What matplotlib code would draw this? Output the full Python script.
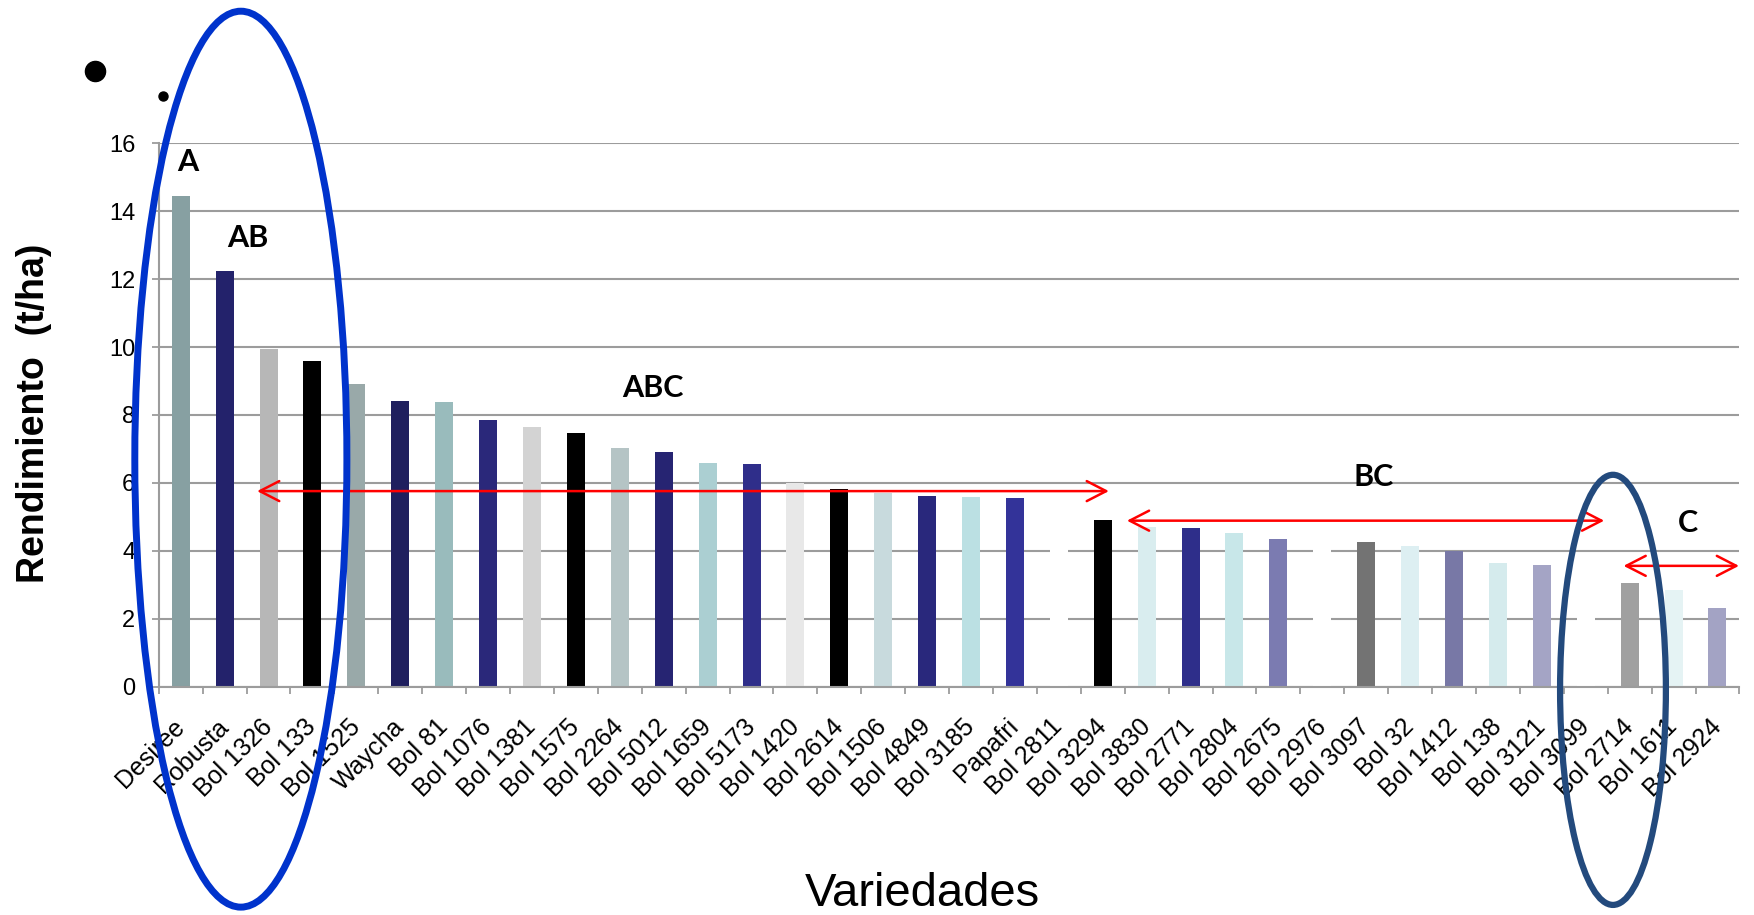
import matplotlib.pyplot as plt
import numpy as np
from matplotlib.patches import Ellipse
from matplotlib.lines import Line2D

variedades = ['Desiree', 'Robusta', 'Bol 1326', 'Bol 133', 'Bol 1525', 'Waycha',
              'Bol 81', 'Bol 1076', 'Bol 1381', 'Bol 1575', 'Bol 2264', 'Bol 5012',
              'Bol 1659', 'Bol 5173', 'Bol 1420', 'Bol 2614', 'Bol 1506', 'Bol 4849',
              'Bol 3185', 'Papafri', 'Bol 2811', 'Bol 3294', 'Bol 3830', 'Bol 2771',
              'Bol 2804', 'Bol 2675', 'Bol 2976', 'Bol 3097', 'Bol 32', 'Bol 1412',
              'Bol 138', 'Bol 3121', 'Bol 3099', 'Bol 2714', 'Bol 1611', 'Bol 2924']
rendimiento = [14.44, 12.25, 9.93, 9.58, 8.92, 8.42, 8.39, 7.86, 7.66, 7.48,
               7.03, 6.92, 6.60, 6.57, 6.00, 5.82, 5.70, 5.61, 5.58, 5.55,
               5.25, 4.91, 4.70, 4.67, 4.53, 4.35, 4.30, 4.26, 4.15, 3.99,
               3.65, 3.59, 3.35, 3.06, 2.86, 2.33]
colores = ['#87A0A2', '#23226B', '#B7B7B7', '#000000', '#99A9A9', '#1F1F5E',
           '#99BBBC', '#2A287A', '#D3D3D3', '#000000', '#B5C4C5', '#262472',
           '#ABCFD2', '#2F2E8A', '#E8E8E8', '#000000', '#C8DADD', '#29287C',
           '#BBE0E3', '#333399', '#FFFFFF', '#000000', '#D9EDEF', '#2E2E8A',
           '#C8E7E9', '#7B7BB1', '#FFFFFF', '#737373', '#DDEFF2', '#7878A6',
           '#D5EBED', '#A4A4C5', '#FFFFFF', '#A0A0A0', '#E5F3F4', '#A3A3C4']

# letras de significancia (Tukey) y rangos que cubren
grupos = ['A', 'AB', 'ABC', 'BC', 'C']
grupos_x = [0.17, 1.53, 10.75, 27.17, 34.33]
grupos_y = [15.45, 13.21, 8.79, 6.18, 4.83]
flechas = [(1.74, 21.14, 5.76), (21.55, 32.42, 4.89), (32.86, 35.49, 3.56)]

fig = plt.figure(figsize=(17.54, 9.15), dpi=100)
ax = fig.add_axes([0.0905, 0.2494, 0.9012, 0.5941])

x = np.arange(len(variedades))
ax.bar(x, rendimiento, width=0.41, color=colores, zorder=2)

ax.set_xlim(-0.5, len(variedades) - 0.5)
ax.set_ylim(0, 16)
ax.set_yticks(np.arange(0, 17, 2))
ax.yaxis.grid(True, color='#9C9C9C', linewidth=1.5, zorder=0)
ax.set_axisbelow(True)
for s in ['top', 'right']:
    ax.spines[s].set_visible(False)
for s in ['left', 'bottom']:
    ax.spines[s].set_color('#9C9C9C')
    ax.spines[s].set_linewidth(1.5)

ax.set_xticks(x)
ax.set_xticklabels(variedades, rotation=45, ha='right', va='center',
                   rotation_mode='anchor', fontsize=18, family='Liberation Sans')
ax.set_xticks(np.arange(-0.5, len(variedades), 1), minor=True)
ax.tick_params(axis='x', which='major', length=0, pad=26)
ax.tick_params(axis='x', which='minor', length=5, width=1.3, color='#9C9C9C')
ax.tick_params(axis='y', length=5, width=1.3, color='#9C9C9C', pad=12)
for t in ax.get_yticklabels():
    t.set_fontsize(17)
    t.set_family('Liberation Sans')

for g, gx, gy in zip(grupos, grupos_x, grupos_y):
    ax.text(gx, gy, g, ha='center', va='center', fontsize=22,
            fontweight='bold', family='Lato')

for x0, x1, y in flechas:
    ax.annotate('', xy=(x1, y), xytext=(x0, y),
                arrowprops=dict(arrowstyle='<->,head_length=0.7,head_width=0.36',
                                color='#FF0000', lw=1.8, mutation_scale=20,
                                shrinkA=0, shrinkB=0),
                annotation_clip=False)

# ovalos resaltando extremos
ax.add_patch(Ellipse((1.37, 6.70), 4.83, 26.37, fill=False, edgecolor='#0033CC',
                     linewidth=5, clip_on=False, zorder=5))
ax.add_patch(Ellipse((32.62, -0.09), 2.41, 12.66, fill=False, edgecolor='#234A7D',
                     linewidth=4.5, clip_on=False, zorder=5))

fig.text(34 / 1754, 1 - 413 / 915, 'Rendimiento  (t/ha)', rotation=90,
         ha='center', va='center', fontsize=27, fontweight='bold',
         family='Liberation Sans')
fig.text(922 / 1754, 1 - 894 / 915, 'Variedades', ha='center', va='center',
         fontsize=34, family='Liberation Sans')

# viñetas
fig.add_artist(Line2D([95 / 1754], [1 - 70.5 / 915], marker='o', markersize=14.5,
                      color='black', transform=fig.transFigure))
fig.add_artist(Line2D([163 / 1754], [1 - 96 / 915], marker='o', markersize=6.5,
                      color='black', transform=fig.transFigure))

fig.savefig('out.png', dpi=100)
